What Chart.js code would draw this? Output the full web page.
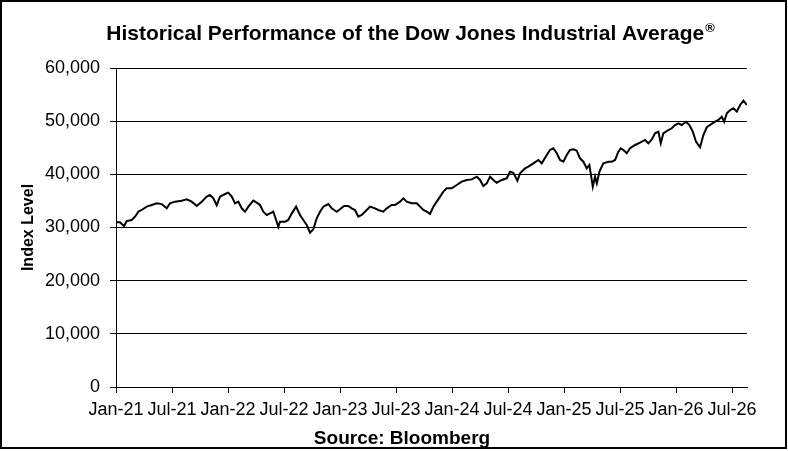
<!DOCTYPE html>
<html>
<head>
<meta charset="utf-8">
<title>Historical Performance of the Dow Jones Industrial Average</title>
<script src="https://cdn.jsdelivr.net/npm/chart.js@4.4.1/dist/chart.umd.min.js"></script>
<style>
  html, body { margin: 0; padding: 0; background: #fff; }
  #wrap { width: 788px; height: 451px; }
</style>
</head>
<body>
<div id="wrap"><canvas id="dowChart" width="788" height="451"></canvas></div>
<script>
// Months since Jan-21
const months = [
  0, 0.43, 0.86, 1.15, 1.68, 2.04, 2.39, 2.75, 3.29, 3.83, 4.36, 4.90, 5.43, 5.79,
  6.32, 7.04, 7.58, 8.11, 8.65, 9.18, 9.72, 10.07, 10.43, 10.79, 11.14, 11.68,
  12.03, 12.40, 12.75, 13.10, 13.47, 13.82, 14.18, 14.71, 15.08, 15.43, 15.78,
  16.15, 16.50, 16.85, 17.04, 17.39, 17.57, 18.11, 18.46, 18.83, 19.29, 19.71,
  20.07, 20.43, 20.79, 21.14, 21.50, 21.86, 22.21, 22.75, 23.11, 23.65, 24.00,
  24.43, 24.89, 25.25, 25.61, 25.96, 26.33, 26.86, 27.22, 27.75, 28.10, 28.64,
  29.00, 29.54, 29.89, 30.43, 30.78, 31.15, 31.68, 32.22, 32.57, 32.93, 33.29,
  33.64, 34.00, 34.36, 34.72, 35.07, 35.43, 35.97, 36.50, 37.04, 37.58, 38.11,
  38.65, 39.00, 39.35, 39.72, 40.07, 40.43, 40.79, 41.33, 41.86, 42.22, 42.57,
  43.00, 43.29, 43.82, 44.18, 44.71, 45.25, 45.61, 46.15, 46.50, 46.85, 47.22,
  47.57, 47.93, 48.29, 48.64, 49.00, 49.36, 49.71, 50.07, 50.43, 50.71, 50.97,
  51.08, 51.32, 51.51, 51.79, 52.21, 52.75, 53.11, 53.47, 53.82, 54.08, 54.36,
  54.72, 55.07, 55.61, 56.14, 56.68, 57.03, 57.40, 57.75, 58.11, 58.36, 58.64,
  59.18, 59.54, 59.89, 60.25, 60.61, 61.07, 61.43, 61.79, 62.14, 62.57, 62.93,
  63.29, 63.64, 64.18, 64.54, 64.90, 65.15, 65.44, 65.79, 66.15, 66.51, 66.86,
  67.22, 67.58
];

// Index level at each of those points
const dowValues = [
  31000, 31000, 30280, 31200, 31410, 32030, 32970, 33290, 33920, 34230, 34550, 34400, 33610, 34550,
  34860, 35050, 35300, 34860, 34040, 34860, 35800, 36110, 35480, 34200, 35800, 36300,
  36550, 35800, 34550, 34860, 33610, 32970, 33920, 35050, 34670, 34230, 32970,
  32350, 32660, 32970, 32030, 30150, 31090, 31090, 31410, 32660, 33920, 32350,
  31410, 30470, 29030, 29660, 31720, 32970, 33920, 34420, 33610, 32970, 33420,
  34040, 34040, 33610, 33290, 32030, 32350, 33290, 33920, 33610, 33290, 32970,
  33610, 34230, 34230, 34860, 35480, 34860, 34550, 34550, 33920, 33290, 32970,
  32540, 33920, 34860, 35800, 36740, 37370, 37370, 37990, 38620, 38940, 39050,
  39560, 38940, 37800, 38310, 39560, 38940, 38420, 38940, 39250, 40500, 40300,
  38810, 40190, 41130, 41450, 42070, 42700, 42070, 43640, 44580, 44900, 43960,
  42700, 42380, 43640, 44580, 44700, 44450, 43010, 42380, 41130, 41760, 38940,
  37680, 39560, 38310, 40500, 42070, 42380, 42380, 42700, 44260, 44900, 44580,
  43960, 44900, 45520, 45960, 46460, 45830, 46580, 47720, 48030, 45830, 47720,
  48340, 48660, 49280, 49600, 49280, 49900, 49280, 48030, 46140, 45080, 47400,
  48850, 49280, 49900, 50220, 50840, 49900, 51480, 52100, 52420, 51790, 53040,
  53850, 53040
];

const xTickLabels = ['Jan-21', 'Jul-21', 'Jan-22', 'Jul-22', 'Jan-23', 'Jul-23',
  'Jan-24', 'Jul-24', 'Jan-25', 'Jul-25', 'Jan-26', 'Jul-26'];
const yTicks = [0, 10000, 20000, 30000, 40000, 50000, 60000];

const titleText = 'Historical Performance of the Dow Jones Industrial Average';
const sourceText = 'Source: Bloomberg';

const FONT = "Arial, 'Liberation Sans', sans-serif";

// title, source line and frame drawn straight onto the canvas
const decorPlugin = {
  id: 'decor',
  beforeDraw(chart) {
    const ctx = chart.ctx;
    ctx.save();
    ctx.fillStyle = '#fff';
    ctx.fillRect(0, 0, chart.width, chart.height);
    ctx.restore();
  },
  afterDraw(chart) {
    const ctx = chart.ctx;
    ctx.save();
    ctx.fillStyle = '#000';
    ctx.textBaseline = 'alphabetic';

    // title + superscript ®
    ctx.font = 'bold 21px ' + FONT;
    const w = ctx.measureText(titleText).width;
    ctx.font = 'bold 13px ' + FONT;
    const wr = ctx.measureText('®').width;
    const startX = 410 - (w + wr) / 2;
    ctx.font = 'bold 21px ' + FONT;
    ctx.textAlign = 'left';
    ctx.fillText(titleText, startX, 40);
    ctx.font = 'bold 13px ' + FONT;
    ctx.fillText('®', startX + w + 1, 32);

    // source
    ctx.font = 'bold 19px ' + FONT;
    ctx.textAlign = 'center';
    ctx.fillText(sourceText, 402, 444);

    // frame
    ctx.strokeStyle = '#000';
    ctx.lineWidth = 2;
    ctx.strokeRect(1, 1, 785, 447);
    ctx.restore();
  }
};

const ctx = document.getElementById('dowChart').getContext('2d');
new Chart(ctx, {
  type: 'line',
  data: {
    datasets: [{
      label: 'Dow Jones Industrial Average',
      data: months.map((m, i) => ({ x: m, y: dowValues[i] })),
      borderColor: '#000',
      borderWidth: 2,
      pointRadius: 0,
      tension: 0,
      fill: false
    }]
  },
  options: {
    responsive: false,
    animation: false,
    devicePixelRatio: 1,
    layout: {
      padding: { left: 0, right: 41, top: 68, bottom: 0 }
    },
    plugins: {
      legend: { display: false },
      tooltip: { enabled: false }
    },
    scales: {
      x: {
        type: 'linear',
        min: 0,
        max: 67.6,
        border: { color: '#000', width: 1 },
        grid: {
          drawOnChartArea: false,
          drawTicks: true,
          tickLength: 6,
          color: '#000'
        },
        ticks: {
          stepSize: 6,
          includeBounds: false,
          autoSkip: false,
          maxRotation: 0,
          padding: 6,
          color: '#000',
          font: { family: FONT, size: 18 },
          callback: (value) => xTickLabels[Math.round(value / 6)]
        },
        afterFit: (scale) => { scale.height = 64; }
      },
      y: {
        min: 0,
        max: 60000,
        border: { color: '#000', width: 1 },
        grid: {
          color: '#000',
          lineWidth: 1,
          drawTicks: true,
          tickLength: 6
        },
        afterBuildTicks: (scale) => {
          scale.ticks = yTicks.map(v => ({ value: v }));
        },
        ticks: {
          padding: 10,
          color: '#000',
          font: { family: FONT, size: 18 },
          callback: (value) => value.toLocaleString('en-US')
        },
        title: {
          display: true,
          text: 'Index Level',
          color: '#000',
          font: { family: FONT, size: 16, weight: 'bold' },
          padding: { top: 19, bottom: 0 }
        },
        afterFit: (scale) => { scale.width = 116; }
      }
    }
  },
  plugins: [decorPlugin]
});
</script>
</body>
</html>
